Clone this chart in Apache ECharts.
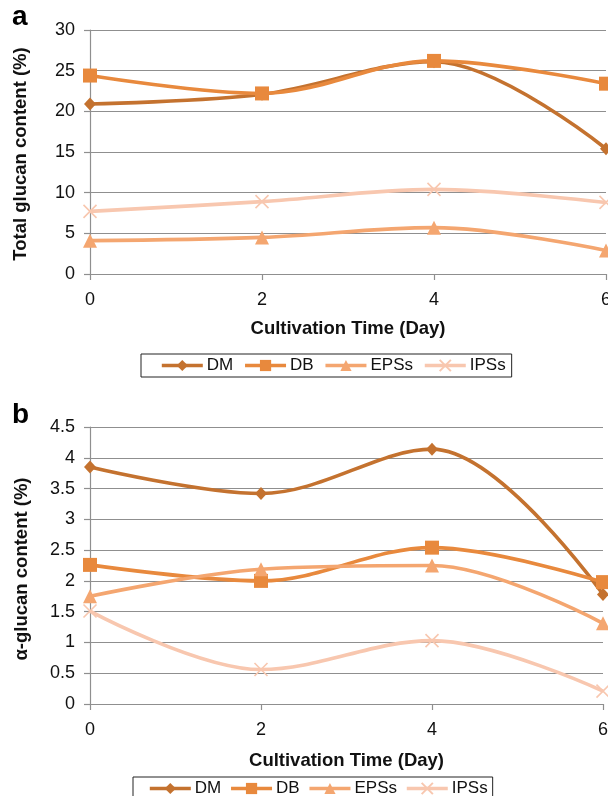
<!DOCTYPE html>
<html>
<head>
<meta charset="utf-8">
<script src="https://cdn.jsdelivr.net/npm/echarts@6/dist/echarts.min.js"></script>
<style>
  html, body { margin: 0; padding: 0; background: #fff; }
  #chart { width: 608px; height: 796px; }
</style>
</head>
<body>
<div id="chart"></div>
<script>
// ---- data ----
const days = [0, 2, 4, 6];
const seriesNames = ['DM', 'DB', 'EPSs', 'IPSs'];
// (a) total glucan content (%)
const totalDM   = [20.9, 22.1, 26.1, 15.4];
const totalDB   = [24.4, 22.2, 26.2, 23.4];
const totalEPSs = [4.1, 4.5, 5.7, 2.9];
const totalIPSs = [7.7, 8.9, 10.4, 8.8];
// (b) alpha-glucan content (%)
const alphaDM   = [3.85, 3.42, 4.14, 1.78];
const alphaDB   = [2.26, 2.0, 2.54, 1.98];
const alphaEPSs = [1.75, 2.19, 2.25, 1.31];
const alphaIPSs = [1.51, 0.56, 1.03, 0.21];
// axis ticks
const xTicks = { min: 0, max: 6, interval: 2 };
const yTicksA = { min: 0, max: 30, interval: 5 };
const yTicksB = { min: 0, max: 4.5, interval: 0.5 };

// ---- styles ----
const colors = { DM: '#C4722F', DB: '#E8893D', EPSs: '#F4A670', IPSs: '#F8C7AF' };
const symbols = {
  DM: { symbol: 'diamond', size: [12, 13] },
  DB: { symbol: 'rect', size: 14 },
  EPSs: { symbol: 'triangle', size: 14 },
  IPSs: { symbol: 'path://M0,0L10,10M10,0L0,10', size: 13 }
};
const FONT = '"Liberation Sans", Arial, Helvetica, sans-serif';
const gridGray = '#8f8f8f';

function pairs(arr) { return days.map((d, i) => [d, arr[i]]); }

function makeSeries(name, arr, idx) {
  const c = colors[name];
  return {
    name: name,
    type: 'line',
    xAxisIndex: idx,
    yAxisIndex: idx,
    data: pairs(arr),
    smooth: 0.35,
    symbol: symbols[name].symbol,
    symbolSize: symbols[name].size,
    showSymbol: true,
    lineStyle: { color: c, width: 3.6 },
    itemStyle: name === 'IPSs'
      ? { color: c, borderColor: c, borderWidth: 1.6 }
      : { color: c, borderWidth: 0 },
    emphasis: { disabled: true },
    animation: false,
    z: 2
  };
}

function xAxisDef(idx, nameGap) {
  return {
    type: 'value', gridIndex: idx,
    min: xTicks.min, max: xTicks.max, interval: xTicks.interval,
    name: 'Cultivation Time (Day)', nameLocation: 'middle', nameGap: nameGap,
    nameTextStyle: { fontFamily: FONT, fontSize: 18.5, fontWeight: 'bold', color: '#111' },
    axisLine: { show: true, lineStyle: { color: gridGray, width: 1.2 } },
    axisTick: { show: true, length: 6, lineStyle: { color: gridGray, width: 1.2 } },
    axisLabel: { fontFamily: FONT, fontSize: 18, color: '#111', margin: 17 },
    splitLine: { show: false }
  };
}
function yAxisDef(idx, t) {
  return {
    type: 'value', gridIndex: idx,
    min: t.min, max: t.max, interval: t.interval,
    axisLine: { show: true, lineStyle: { color: gridGray, width: 1.2 } },
    axisTick: { show: true, length: 6, lineStyle: { color: gridGray, width: 1.2 } },
    axisLabel: { fontFamily: FONT, fontSize: 18, color: '#111', margin: 15 },
    splitLine: { show: true, lineStyle: { color: gridGray, width: 1.2 } }
  };
}
function legendDef(left, top, gap, padding) {
  return {
    data: seriesNames,
    left: left, top: top,
    orient: 'horizontal',
    itemWidth: 41, itemHeight: 14, itemGap: gap,
    padding: padding,
    backgroundColor: '#fff',
    borderColor: '#222', borderWidth: 1, borderRadius: 0,
    lineStyle: { width: 3.6 },
    textStyle: { fontFamily: FONT, fontSize: 17, color: '#111', padding: [0, 0, 0, -1] },
    selectedMode: false
  };
}

const chart = echarts.init(document.getElementById('chart'), null, { renderer: 'canvas' });
chart.setOption({
  backgroundColor: '#fff',
  animation: false,
  grid: [
    { left: 90, top: 30, width: 516, height: 244, outerBoundsMode: 'none', containLabel: false },
    { left: 90, top: 427, width: 513, height: 277, outerBoundsMode: 'none', containLabel: false }
  ],
  xAxis: [xAxisDef(0, 45), xAxisDef(1, 47)],
  yAxis: [yAxisDef(0, yTicksA), yAxisDef(1, yTicksB)],
  legend: [
    legendDef(141, 354, 10, [3, 6, 3, 19]),
    legendDef(133, 777, 8, [3, 5, 3, 15])
  ],
  graphic: [
    { type: 'text', x: 12, y: 3, style: { text: 'a', font: 'bold 28px ' + FONT, fill: '#000', verticalAlign: 'top' } },
    { type: 'text', x: 12, y: 401, style: { text: 'b', font: 'bold 28px ' + FONT, fill: '#000', verticalAlign: 'top' } },
    { type: 'text', x: 21, y: 154, rotation: Math.PI / 2,
      style: { text: 'Total glucan content (%)', font: 'bold 18.5px ' + FONT, fill: '#111', align: 'center', verticalAlign: 'middle' } },
    { type: 'text', x: 22, y: 569, rotation: Math.PI / 2,
      style: { text: 'α-glucan content (%)', font: 'bold 18.5px ' + FONT, fill: '#111', align: 'center', verticalAlign: 'middle' } }
  ],
  series: [
    makeSeries('DM', totalDM, 0),
    makeSeries('DB', totalDB, 0),
    makeSeries('EPSs', totalEPSs, 0),
    makeSeries('IPSs', totalIPSs, 0),
    makeSeries('DM', alphaDM, 1),
    makeSeries('DB', alphaDB, 1),
    makeSeries('EPSs', alphaEPSs, 1),
    makeSeries('IPSs', alphaIPSs, 1)
  ]
});
</script>
</body>
</html>
